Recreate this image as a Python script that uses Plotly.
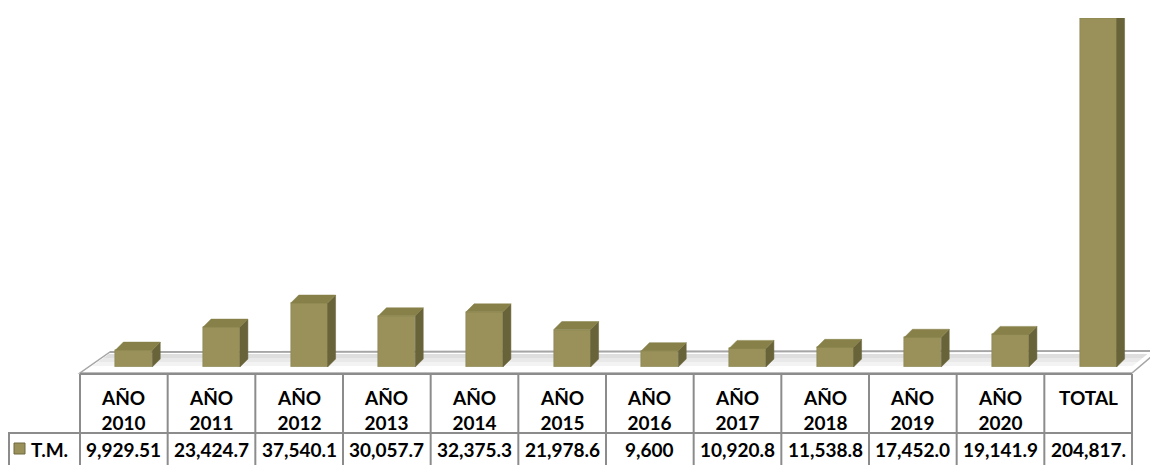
import plotly.graph_objects as go

# ---- data ----
categories = ["AÑO<br>2010", "AÑO<br>2011", "AÑO<br>2012", "AÑO<br>2013", "AÑO<br>2014",
              "AÑO<br>2015", "AÑO<br>2016", "AÑO<br>2017", "AÑO<br>2018", "AÑO<br>2019",
              "AÑO<br>2020", "TOTAL"]
values = [9929.51, 23424.7, 37540.1, 30057.7, 32375.3, 21978.6, 9600, 10920.8,
          11538.8, 17452.0, 19141.9, 204817.5]
value_labels = ["9,929.51", "23,424.7", "37,540.1", "30,057.7", "32,375.3", "21,978.6",
                "9,600", "10,920.8", "11,538.8", "17,452.0", "19,141.9", "204,817."]
series_name = "T.M."

# the page body has an 8px margin, so the figure is placed at (8, 8)
OFF = 8
W, H = 1158 - OFF, 465 - OFF
FONT = "Lato"
FRONT = "#9A915A"
SIDE = "#696339"
TOP = "#878049"
GRID = "#A6A6A6"
TABLE_LINE = "#8C8C8C"


def px(x):
    return (x - OFF) / W


def py(y):
    return 1 - (y - OFF) / H


# axis geometry (window pixels)
x_left, x_right = 90, 1142          # range [-0.5, n-0.5]
y_zero, y_max = 367, 18             # value 0 and max value
n = len(values)
vmax = max(values)
col_w_px = (x_right - x_left) / n
bar_w = 0.42
dx = 8 / col_w_px                   # 3D depth in data units
dy = 8 * vmax / (y_zero - y_max)

xs = list(range(n))

fig = go.Figure()

# front faces
fig.add_trace(go.Bar(
    x=xs, y=values, width=bar_w, marker=dict(color=FRONT, line=dict(color="#858050", width=0.5)),
    hoverinfo="skip", showlegend=False))

# side faces and top faces (derived from the data)
sx, sy, tx, ty = [], [], [], []
for i, v in zip(xs, values):
    x0 = i - bar_w / 2
    x1 = i + bar_w / 2
    sx += [x1, x1 + dx, x1 + dx, x1, x1, None]
    sy += [0, dy, v + dy, v, 0, None]
    tx += [x0, x1, x1 + dx, x0 + dx, x0, None]
    ty += [v, v, v + dy, v + dy, v, None]

fig.add_trace(go.Scatter(x=sx, y=sy, mode="lines", fill="toself", fillcolor=SIDE,
                         line=dict(width=0.5, color=SIDE), hoverinfo="skip", showlegend=False))
fig.add_trace(go.Scatter(x=tx, y=ty, mode="lines", fill="toself", fillcolor=TOP,
                         line=dict(width=0.5, color=TOP), hoverinfo="skip", showlegend=False))

shapes = []
# floor (3D base)
floor = [(110, 352), (1158, 351), (1132, 373), (80, 373)]
path = "M " + " L ".join(f"{px(a)},{py(b)}" for a, b in floor) + " Z"
shapes.append(dict(type="path", xref="paper", yref="paper", path=path,
                   fillcolor="white", line=dict(color=GRID, width=1.5), layer="below"))
# soft shadow on the floor behind the bars
for (ya, yb, c) in [(354, 358, "#DEDEDE"), (358, 362, "#E9E9E9"), (362, 366, "#F3F3F3")]:
    fa = 110 - (ya - 352) * 30 / 21
    fb = 110 - (yb - 352) * 30 / 21
    pts = [(fa + 2, ya), (1150 - (ya - 352) * 26 / 21, ya), (1150 - (yb - 352) * 26 / 21, yb), (fb + 2, yb)]
    p = "M " + " L ".join(f"{px(a)},{py(b)}" for a, b in pts) + " Z"
    shapes.append(dict(type="path", xref="paper", yref="paper", path=p,
                       fillcolor=c, line=dict(width=0), layer="below"))
# back edge line redrawn on top of shadow
shapes.append(dict(type="line", xref="paper", yref="paper", x0=px(110), y0=py(352),
                   x1=px(1158), y1=py(351), line=dict(color=GRID, width=1.8), layer="below"))

# data table grid
t_left, t_right = 80, 1132
t_top, t_mid, t_bot = 374, 433, 466
cw = (t_right - t_left) / n
shapes.append(dict(type="line", xref="paper", yref="paper", x0=px(t_left), y0=py(t_top),
                   x1=px(t_right), y1=py(t_top), line=dict(color=TABLE_LINE, width=2)))
shapes.append(dict(type="line", xref="paper", yref="paper", x0=px(8), y0=py(t_mid),
                   x1=px(t_right), y1=py(t_mid), line=dict(color=TABLE_LINE, width=2)))
shapes.append(dict(type="line", xref="paper", yref="paper", x0=px(9), y0=py(t_mid),
                   x1=px(9), y1=py(t_bot), line=dict(color=TABLE_LINE, width=2)))
for k in range(n + 1):
    xk = t_left + k * cw
    shapes.append(dict(type="line", xref="paper", yref="paper", x0=px(xk), y0=py(t_top),
                       x1=px(xk), y1=py(t_bot), line=dict(color=TABLE_LINE, width=2)))
# legend key
shapes.append(dict(type="rect", xref="paper", yref="paper", x0=px(14), y0=py(454),
                   x1=px(25), y1=py(443), fillcolor=FRONT, line=dict(color="#6E6840", width=1)))

annotations = []
for k, (c, lab) in enumerate(zip(categories, value_labels)):
    cx = t_left + (k + 0.5) * cw
    annotations.append(dict(xref="paper", yref="paper", x=px(cx), y=py(384), text=f"<b>{c}</b>",
                            showarrow=False, xanchor="center", yanchor="top",
                            font=dict(family=FONT, size=19, color="black")))
    annotations.append(dict(xref="paper", yref="paper", x=px(cx), y=py(449), text=f"<b>{lab}</b>",
                            showarrow=False, xanchor="center", yanchor="middle",
                            font=dict(family=FONT, size=19, color="black")))
annotations.append(dict(xref="paper", yref="paper", x=px(29), y=py(449), text=f"<b>{series_name}</b>",
                        showarrow=False, xanchor="left", yanchor="middle",
                        font=dict(family=FONT, size=19, color="black")))

fig.update_layout(
    width=W, height=H, margin=dict(l=0, r=0, t=0, b=0),
    paper_bgcolor="white", plot_bgcolor="rgba(0,0,0,0)",
    xaxis=dict(domain=[px(x_left), px(x_right)], range=[-0.5, n - 0.5], visible=False, fixedrange=True),
    yaxis=dict(domain=[py(y_zero), py(y_max)], range=[0, vmax], visible=False, fixedrange=True),
    shapes=shapes, annotations=annotations, showlegend=False, bargap=0,
)

fig.write_html("out.html")
